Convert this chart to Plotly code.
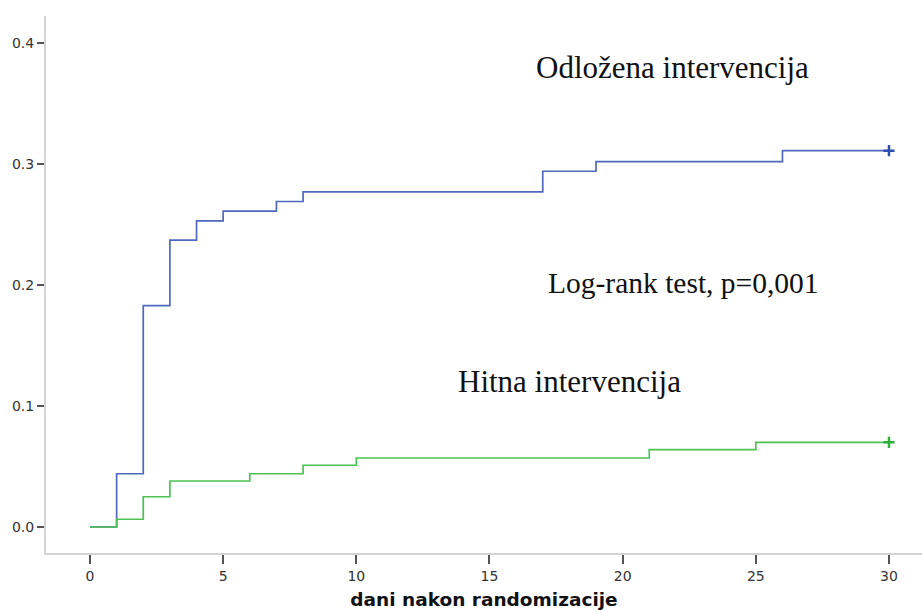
import plotly.graph_objects as go

# Kaplan-Meier cumulative event curves (days after randomization)
odlozena_days = [0, 1, 2, 3, 4, 5, 7, 8, 17, 19, 26, 30]
odlozena_vals = [0.0, 0.044, 0.183, 0.237, 0.253, 0.261, 0.269, 0.277, 0.294, 0.302, 0.311, 0.311]

hitna_days = [0, 1, 2, 3, 6, 8, 10, 21, 25, 30]
hitna_vals = [0.0, 0.0064, 0.025, 0.038, 0.044, 0.051, 0.057, 0.064, 0.070, 0.070]

x_ticks = [0, 5, 10, 15, 20, 25, 30]
y_ticks = [0.0, 0.1, 0.2, 0.3, 0.4]
y_tick_labels = ["0.0", "0.1", "0.2", "0.3", "0.4"]

blue = "#4f68be"
green = "#4cc253"

fig = go.Figure()
fig.add_trace(go.Scatter(x=odlozena_days, y=odlozena_vals, mode="lines",
                         line=dict(color=blue, width=1.7, shape="hv"),
                         name="Odložena intervencija", showlegend=False))
fig.add_trace(go.Scatter(x=hitna_days, y=hitna_vals, mode="lines",
                         line=dict(color=green, width=1.7, shape="hv"),
                         name="Hitna intervencija", showlegend=False))
# censoring marks at the end of follow-up
fig.add_trace(go.Scatter(x=[odlozena_days[-1]], y=[odlozena_vals[-1]], mode="markers",
                         marker=dict(symbol="cross-thin", size=8, line=dict(color="#2f4fb0", width=2.5)),
                         showlegend=False))
fig.add_trace(go.Scatter(x=[hitna_days[-1]], y=[hitna_vals[-1]], mode="markers",
                         marker=dict(symbol="cross-thin", size=8, line=dict(color="#2eb03a", width=2.5)),
                         showlegend=False))

serif = "Liberation Serif, Times New Roman, serif"
fig.add_annotation(x=21.86, y=0.3795, text="Odložena intervencija", showarrow=False,
                   font=dict(family=serif, size=31, color="#111"), xanchor="center", yanchor="middle")
fig.add_annotation(x=22.28, y=0.2013, text="Log-rank test, p=0,001", showarrow=False,
                   font=dict(family=serif, size=29.5, color="#111"), xanchor="center", yanchor="middle")
fig.add_annotation(x=18.0, y=0.1205, text="Hitna intervencija", showarrow=False,
                   font=dict(family=serif, size=31, color="#111"), xanchor="center", yanchor="middle")

sans = "DejaVu Sans, Verdana, sans-serif"
fig.update_layout(
    width=922, height=610,
    margin=dict(l=46, r=0, t=16, b=57),
    paper_bgcolor="white", plot_bgcolor="white",
    font=dict(family=sans, size=14, color="#333"),
    xaxis=dict(range=[-1.652, 31.24], tickvals=x_ticks, showgrid=False, zeroline=False,
               showline=True, linecolor="#d4d4d4", linewidth=2,
               ticks="outside", ticklen=9, tickwidth=2, tickcolor="#555",
               tickfont=dict(family=sans, size=14, color="#333"),
               title=dict(text="<b>dani nakon randomizacije</b>", standoff=10,
                          font=dict(family=sans, size=18.5, color="#111"))),
    yaxis=dict(range=[-0.0215, 0.4223], tickvals=y_ticks, ticktext=y_tick_labels,
               showgrid=False, zeroline=False,
               showline=True, linecolor="#d4d4d4", linewidth=2,
               ticks="outside", ticklen=7, tickwidth=2, tickcolor="#555",
               tickfont=dict(family=sans, size=14, color="#333")),
)

fig.write_html("out.html")
